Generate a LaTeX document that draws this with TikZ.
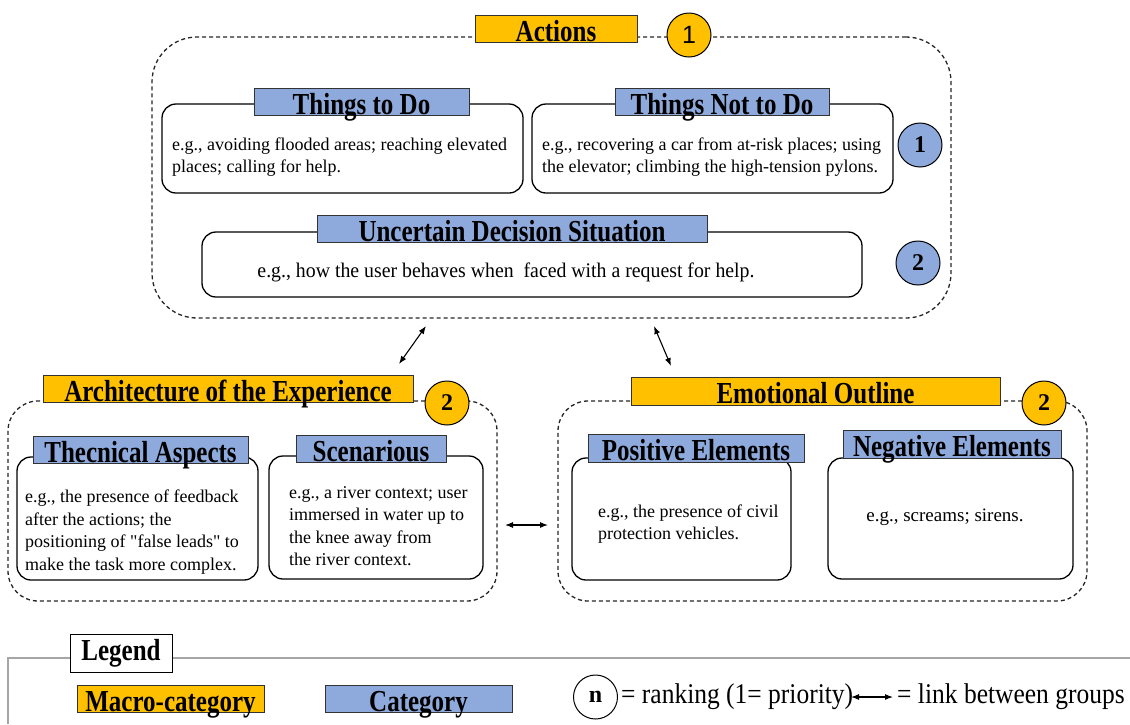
\documentclass[tikz,border=0pt]{standalone}
\usepackage{fontspec}
\setmainfont{Liberation Serif}
\newfontfamily\numsans{Liberation Sans}
\newfontfamily\straightserif{Liberation Serif}[Ligatures=TeXOff]
\usetikzlibrary{arrows.meta}

\definecolor{macroorange}{HTML}{FFC000}
\definecolor{catblue}{HTML}{8EA9DB}
\definecolor{legendgray}{HTML}{A6A6A6}

% tall bold headings, as in the source layout
\newcommand{\tallhead}[1]{\scalebox{1}[1.22]{\bfseries #1}}
\newcommand{\tallreg}[1]{\scalebox{1}[1.12]{#1}}

\begin{document}
\begin{tikzpicture}[x=1pt,y=-1pt,
  groupbox/.style={draw=black!85, line width=1.3pt, dash pattern=on 4pt off 3pt,
                   rounded corners=#1, inner sep=0pt},
  itembox/.style={draw=black, line width=1.3pt, rounded corners=14pt, fill=white, inner sep=0pt},
  headlabel/.style={draw=black!80, line width=0.9pt, inner xsep=0pt, inner ysep=0pt,
                    text height=26pt, text depth=1pt, font=\fontsize{25}{25}\selectfont},
  macro/.style={headlabel, fill=macroorange},
  cat/.style={headlabel, fill=catblue},
  rankmacro/.style={circle, draw=black, line width=1pt, fill=macroorange, inner sep=0pt,
                    minimum size=44pt, font=\fontsize{24}{24}\selectfont\bfseries},
  rankcat/.style={circle, draw=black, line width=1pt, fill=catblue, inner sep=0pt,
                  minimum size=44pt, font=\fontsize{24}{24}\selectfont\bfseries},
  body/.style={inner sep=0pt, align=left, font=\fontsize{18}{22.5}\selectfont},
  link/.style={{Latex[length=8pt,width=6pt]}-{Latex[length=8pt,width=6pt]}, line width=1.1pt},
  legendtxt/.style={inner sep=0pt, anchor=west, font=\fontsize{25.5}{25.5}\selectfont}
]
\useasboundingbox (0,0) rectangle (1130,724);

% ---------------- Actions ----------------
\node[groupbox=45pt, minimum width=799pt, minimum height=281pt] (actions) at (551.5,177.5) {};
\node[macro, minimum width=162pt, minimum height=27pt] (actionslbl) at (556,28.5) {\tallhead{Actions}};
\node[rankmacro, font=\fontsize{25}{25}\selectfont\numsans] (actionsrank) at (689,35) {1};

\node[itembox, minimum width=361pt, minimum height=89pt] (todo) at (342.5,148.5) {};
\node[cat, minimum width=215pt, minimum height=27pt] (todolbl) at (361.5,101.5) {\tallhead{Things to Do}};
\node[body, anchor=west] (todotxt) at (172,157)
  {e.g., avoiding flooded areas; reaching elevated\\places; calling for help.};

\node[itembox, minimum width=361pt, minimum height=89pt] (nottodo) at (712.5,148.5) {};
\node[cat, minimum width=214pt, minimum height=27pt] (nottodolbl) at (722,101.5) {\tallhead{Things Not to Do}};
\node[body, anchor=west] (nottodotxt) at (542,157)
  {e.g., recovering a car from at-risk places; using\\the elevator; climbing the high-tension pylons.};

\node[rankcat] (rankone) at (920,145) {1};

\node[itembox, minimum width=660pt, minimum height=65pt] (uncertain) at (532,264.5) {};
\node[cat, minimum width=390pt, minimum height=27pt] (uncertainlbl) at (512,228.5) {\tallhead{Uncertain Decision Situation}};
\node[body, font=\fontsize{19.8}{22}\selectfont] (uncertaintxt) at (506,272)
  {\scalebox{1}[1.05]{e.g., how the user behaves when\ \ faced with a request for help.}};

\node[rankcat] (ranktwo) at (918,263) {2};

% ---------------- Architecture of the Experience ----------------
\node[groupbox=30pt, minimum width=489pt, minimum height=200pt] (arch) at (252.5,501) {};
\node[macro, minimum width=370pt, minimum height=27pt] (archlbl) at (228,388.5) {\tallhead{Architecture of the Experience}};
\node[rankmacro] (archrank) at (447,403) {2};

\node[itembox, minimum width=241pt, minimum height=123pt] (tech) at (137.5,518.5) {};
\node[cat, minimum width=215pt, minimum height=27pt] (techlbl) at (140.5,449.5) {\tallhead{Thecnical Aspects}};
\node[body, font=\fontsize{18}{22.5}\straightserif] (techtxt) [anchor=west] at (25,532)
  {e.g., the presence of feedback\\after the actions; the\\positioning of "false leads" to\\make the task more complex.};

\node[itembox, minimum width=214pt, minimum height=123pt] (scen) at (376,517.5) {};
\node[cat, minimum width=150pt, minimum height=27pt] (scenlbl) at (371,449) {\tallhead{Scenarious}};
\node[body, anchor=west] (scentxt) at (289,526)
  {e.g., a river context; user\\immersed in water up to\\the knee away from\\the river context.};

% ---------------- Emotional Outline ----------------
\node[groupbox=30pt, minimum width=529pt, minimum height=200pt] (emo) at (822.5,501) {};
\node[macro, minimum width=369pt, minimum height=28pt] (emolbl) at (815.5,391) {\tallhead{Emotional Outline}};
\node[rankmacro] (emorank) at (1044,403) {2};

\node[itembox, minimum width=219pt, minimum height=122pt] (pos) at (681.5,519) {};
\node[cat, minimum width=216pt, minimum height=28pt] (poslbl) at (696,448) {\tallhead{Positive Elements}};
\node[body, anchor=west] (postxt) at (598,524)
  {e.g., the presence of civil\\protection vehicles.};

\node[itembox, minimum width=245pt, minimum height=121pt] (neg) at (950.5,518.5) {};
\node[cat, minimum width=218pt, minimum height=28pt] (neglbl) at (952,444) {\tallhead{Negative Elements}};
\node[body, font=\fontsize{19}{22}\selectfont] (negtxt) at (945,517) {e.g., screams; sirens.};

% ---------------- links between groups ----------------
\coordinate (lnkAa) at (426,326);
\coordinate (lnkAb) at (399,364);
\coordinate (lnkBa) at (654,326);
\coordinate (lnkBb) at (671,366);
\coordinate (lnkCa) at (505,525);
\coordinate (lnkCb) at (548,525);
\draw[link] (lnkAa) -- (lnkAb);
\draw[link] (lnkBa) -- (lnkBb);
\draw[link] (lnkCa) -- (lnkCb);

% ---------------- Legend ----------------
\coordinate (legbl) at (8,724);
\coordinate (legtl) at (8,658);
\coordinate (legtr) at (1130,658);
\draw[legendgray, line width=1.5pt] (legbl) -- (legtl) -- (legtr);
\node[draw=black, line width=1pt, fill=white, minimum width=102pt, minimum height=38pt,
      inner sep=0pt, font=\fontsize{25}{25}\selectfont] (legend) at (121,653) {\tallhead{Legend}};
\node[macro, minimum width=187pt, minimum height=27pt] (legmacro) at (170.5,698.5) {\tallhead{Macro-category}};
\node[cat, minimum width=187pt, minimum height=27pt] (legcat) at (418.5,698.5) {\tallhead{Category}};
\node[circle, draw=black, line width=1pt, fill=white, minimum size=44pt, inner sep=0pt,
      font=\fontsize{24}{24}\selectfont\bfseries] (legrank) at (595.5,697) {n};
\node[legendtxt] (legranktxt) at (621,697) {\tallreg{= ranking (1= priority)}};
\coordinate (leglnka) at (851,697);
\coordinate (leglnkb) at (893,697);
\draw[link] (leglnka) -- (leglnkb);
\node[legendtxt] (leglinktxt) at (897,697) {\tallreg{= link between groups}};

\end{tikzpicture}
\end{document}
